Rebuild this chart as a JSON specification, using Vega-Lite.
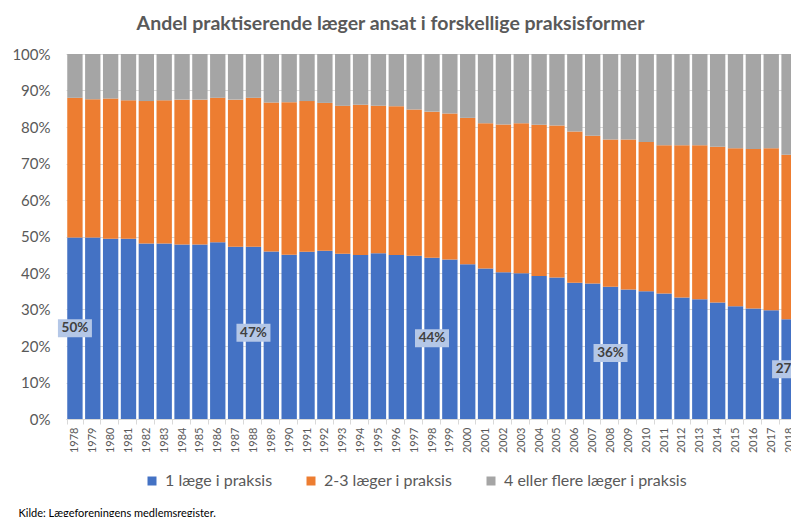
{
  "$schema": "https://vega.github.io/schema/vega-lite/v6.json",
  "width": 725,
  "height": 365,
  "autosize": {"type": "none"},
  "padding": {"left": 66, "top": 54, "right": 0, "bottom": 98},
  "background": "white",
  "config": {
    "view": {"stroke": null},
    "font": "Lato"
  },
  "title": {
    "text": "Andel praktiserende læger ansat i forskellige praksisformer",
    "font": "Lato",
    "fontSize": 19.5,
    "fontWeight": "bold",
    "color": "#595959",
    "anchor": "middle",
    "dx": -38,
    "baseline": "alphabetic",
    "offset": -2
  },
  "resolve": {"axis": {"y": "independent"}},
  "data": {
    "values": [
      {"year": 1978, "1 læge i praksis": 49.7, "2-3 læger i praksis": 38.3, "4 eller flere læger i praksis": 12.0},
      {"year": 1979, "1 læge i praksis": 49.7, "2-3 læger i praksis": 37.9, "4 eller flere læger i praksis": 12.4},
      {"year": 1980, "1 læge i praksis": 49.4, "2-3 læger i praksis": 38.4, "4 eller flere læger i praksis": 12.2},
      {"year": 1981, "1 læge i praksis": 49.4, "2-3 læger i praksis": 37.9, "4 eller flere læger i praksis": 12.7},
      {"year": 1982, "1 læge i praksis": 48.1, "2-3 læger i praksis": 39.0, "4 eller flere læger i praksis": 12.9},
      {"year": 1983, "1 læge i praksis": 48.1, "2-3 læger i praksis": 39.2, "4 eller flere læger i praksis": 12.7},
      {"year": 1984, "1 læge i praksis": 47.8, "2-3 læger i praksis": 39.7, "4 eller flere læger i praksis": 12.5},
      {"year": 1985, "1 læge i praksis": 47.8, "2-3 læger i praksis": 39.7, "4 eller flere læger i praksis": 12.5},
      {"year": 1986, "1 læge i praksis": 48.4, "2-3 læger i praksis": 39.6, "4 eller flere læger i praksis": 12.0},
      {"year": 1987, "1 læge i praksis": 47.2, "2-3 læger i praksis": 40.3, "4 eller flere læger i praksis": 12.5},
      {"year": 1988, "1 læge i praksis": 47.2, "2-3 læger i praksis": 40.8, "4 eller flere læger i praksis": 12.0},
      {"year": 1989, "1 læge i praksis": 45.9, "2-3 læger i praksis": 40.8, "4 eller flere læger i praksis": 13.3},
      {"year": 1990, "1 læge i praksis": 45.0, "2-3 læger i praksis": 41.8, "4 eller flere læger i praksis": 13.2},
      {"year": 1991, "1 læge i praksis": 45.8, "2-3 læger i praksis": 41.3, "4 eller flere læger i praksis": 12.9},
      {"year": 1992, "1 læge i praksis": 46.1, "2-3 læger i praksis": 40.5, "4 eller flere læger i praksis": 13.4},
      {"year": 1993, "1 læge i praksis": 45.3, "2-3 læger i praksis": 40.5, "4 eller flere læger i praksis": 14.2},
      {"year": 1994, "1 læge i praksis": 44.9, "2-3 læger i praksis": 41.2, "4 eller flere læger i praksis": 13.9},
      {"year": 1995, "1 læge i praksis": 45.4, "2-3 læger i praksis": 40.4, "4 eller flere læger i praksis": 14.2},
      {"year": 1996, "1 læge i praksis": 44.9, "2-3 læger i praksis": 40.8, "4 eller flere læger i praksis": 14.3},
      {"year": 1997, "1 læge i praksis": 44.7, "2-3 læger i praksis": 40.1, "4 eller flere læger i praksis": 15.2},
      {"year": 1998, "1 læge i praksis": 44.2, "2-3 læger i praksis": 40.0, "4 eller flere læger i praksis": 15.8},
      {"year": 1999, "1 læge i praksis": 43.7, "2-3 læger i praksis": 40.0, "4 eller flere læger i praksis": 16.3},
      {"year": 2000, "1 læge i praksis": 42.4, "2-3 læger i praksis": 40.1, "4 eller flere læger i praksis": 17.5},
      {"year": 2001, "1 læge i praksis": 41.2, "2-3 læger i praksis": 39.8, "4 eller flere læger i praksis": 19.0},
      {"year": 2002, "1 læge i praksis": 40.2, "2-3 læger i praksis": 40.5, "4 eller flere læger i praksis": 19.3},
      {"year": 2003, "1 læge i praksis": 39.9, "2-3 læger i praksis": 41.1, "4 eller flere læger i praksis": 19.0},
      {"year": 2004, "1 læge i praksis": 39.2, "2-3 læger i praksis": 41.4, "4 eller flere læger i praksis": 19.4},
      {"year": 2005, "1 læge i praksis": 38.8, "2-3 læger i praksis": 41.6, "4 eller flere læger i praksis": 19.6},
      {"year": 2006, "1 læge i praksis": 37.3, "2-3 læger i praksis": 41.5, "4 eller flere læger i praksis": 21.2},
      {"year": 2007, "1 læge i praksis": 37.1, "2-3 læger i praksis": 40.5, "4 eller flere læger i praksis": 22.4},
      {"year": 2008, "1 læge i praksis": 36.2, "2-3 læger i praksis": 40.4, "4 eller flere læger i praksis": 23.4},
      {"year": 2009, "1 læge i praksis": 35.5, "2-3 læger i praksis": 41.1, "4 eller flere læger i praksis": 23.4},
      {"year": 2010, "1 læge i praksis": 35.0, "2-3 læger i praksis": 40.9, "4 eller flere læger i praksis": 24.1},
      {"year": 2011, "1 læge i praksis": 34.4, "2-3 læger i praksis": 40.6, "4 eller flere læger i praksis": 25.0},
      {"year": 2012, "1 læge i praksis": 33.3, "2-3 læger i praksis": 41.7, "4 eller flere læger i praksis": 25.0},
      {"year": 2013, "1 læge i praksis": 32.8, "2-3 læger i praksis": 42.2, "4 eller flere læger i praksis": 25.0},
      {"year": 2014, "1 læge i praksis": 31.9, "2-3 læger i praksis": 42.7, "4 eller flere læger i praksis": 25.4},
      {"year": 2015, "1 læge i praksis": 30.9, "2-3 læger i praksis": 43.3, "4 eller flere læger i praksis": 25.8},
      {"year": 2016, "1 læge i praksis": 30.3, "2-3 læger i praksis": 43.7, "4 eller flere læger i praksis": 26.0},
      {"year": 2017, "1 læge i praksis": 29.8, "2-3 læger i praksis": 44.4, "4 eller flere læger i praksis": 25.8},
      {"year": 2018, "1 læge i praksis": 27.3, "2-3 læger i praksis": 45.1, "4 eller flere læger i praksis": 27.6}
    ]
  },
  "encoding": {
    "x": {
      "field": "year",
      "type": "ordinal",
      "scale": {"range": [0, 732], "paddingInner": 0.14, "paddingOuter": 0.07},
      "axis": {
        "labelAngle": -90,
        "labelAlign": "right",
        "labelBaseline": "middle",
        "labelFont": "Lato",
        "labelFontSize": 11,
        "labelColor": "#595959",
        "labelPadding": 3,
        "ticks": true,
        "tickBand": "extent",
        "tickSize": 5,
        "tickColor": "#D9D9D9",
        "domainColor": "#D9D9D9",
        "grid": false,
        "title": "Kilde: Lægeforeningens medlemsregister.",
        "titleFont": "Lato",
        "titleFontSize": 11,
        "titleFontWeight": "normal",
        "titleColor": "#000000",
        "titleAnchor": "start",
        "titleAlign": "left",
        "titleBaseline": "top",
        "titleX": -48,
        "titleY": 88
      }
    }
  },
  "layer": [
    {
      "transform": [
        {"fold": ["1 læge i praksis", "2-3 læger i praksis", "4 eller flere læger i praksis"], "as": ["kat", "pct"]}
      ],
      "mark": {"type": "bar", "clip": true},
      "encoding": {
        "y": {
          "field": "pct",
          "type": "quantitative",
          "stack": "zero",
          "scale": {"domain": [0, 100], "nice": false},
          "axis": {
            "values": [0, 10, 20, 30, 40, 50, 60, 70, 80, 90, 100],
            "labelExpr": "datum.value + '%'",
            "labelOverlap": false,
            "labelFont": "Lato",
            "labelFontSize": 15,
            "labelColor": "#595959",
            "labelPadding": 16,
            "domain": false,
            "ticks": false,
            "gridColor": "#D9D9D9",
            "title": null
          }
        },
        "color": {
          "field": "kat",
          "type": "nominal",
          "scale": {
            "domain": ["1 læge i praksis", "2-3 læger i praksis", "4 eller flere læger i praksis"],
            "range": ["#4472C4", "#ED7D31", "#A5A5A5"]
          },
          "legend": {
            "title": null,
            "orient": "none",
            "direction": "horizontal",
            "legendX": 78,
            "legendY": 419,
            "padding": 0,
            "symbolType": "square",
            "symbolSize": 81,
            "symbolStrokeWidth": 0,
            "labelFont": "Lato",
            "labelFontSize": 16,
            "labelColor": "#595959",
            "labelOffset": 5,
            "labelLimit": 300,
            "columnPadding": 30
          }
        },
        "order": {"field": "kat", "sort": "ascending"}
      }
    },
    {
      "transform": [
        {"filter": "datum.year % 10 == 8"},
        {"calculate": "datum['1 læge i praksis'] / 2", "as": "pct"}
      ],
      "mark": {"type": "point", "shape": "M-1,-0.53H1V0.53H-1Z", "size": 1156, "filled": true, "color": "#B4C7E7", "opacity": 1, "strokeWidth": 0},
      "encoding": {
        "y": {"field": "pct", "type": "quantitative", "axis": null}
      }
    },
    {
      "transform": [
        {"filter": "datum.year % 10 == 8"},
        {"calculate": "datum['1 læge i praksis'] / 2", "as": "pct"},
        {"calculate": "format(datum['1 læge i praksis'], '.0f') + '%'", "as": "lbl"}
      ],
      "mark": {"type": "text", "font": "Lato", "fontWeight": "bold", "fontSize": 13.5, "color": "#404040", "baseline": "middle", "align": "center"},
      "encoding": {
        "y": {"field": "pct", "type": "quantitative", "axis": null},
        "text": {"field": "lbl"}
      }
    }
  ]
}
